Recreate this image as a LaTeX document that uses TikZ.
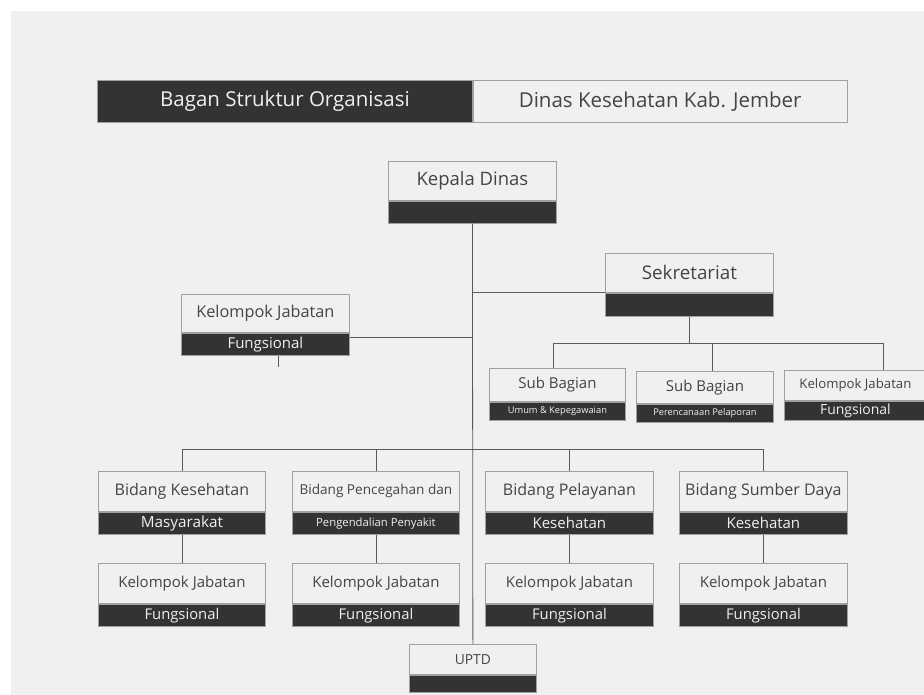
\documentclass[tikz,border=0pt]{standalone}
\usepackage{fontspec}
\setmainfont{Open Sans}
\usetikzlibrary{positioning}

\definecolor{paper}{HTML}{F0F0F0}
\definecolor{darkbar}{HTML}{333333}
\definecolor{frame}{HTML}{A0A0A0}
\definecolor{ink}{HTML}{444444}
\definecolor{wire}{HTML}{5A5A5A}

\newcommand{\fs}[1]{\fontsize{#1}{#1}\selectfont}

\tikzset{
  unittop/.style={draw=frame, line width=0.8pt, fill=paper, text=ink, inner sep=0pt, anchor=north west},
  unitbot/.style={draw=frame, line width=0.8pt, fill=darkbar, text=paper, inner sep=0pt, anchor=north},
  link/.style={draw=wire, line width=0.8pt}
}

% name, north west corner, width, top height, bottom height, top text, bottom text
\newcommand{\orgunit}[7]{%
  \node[unittop, minimum width=#3, minimum height=#4] (#1) at #2 {#6};
  \node[unitbot, minimum width=#3, minimum height=#5] (#1-b) at (#1.south) {#7};
}

\begin{document}
\begin{tikzpicture}[x=1pt, y=-1pt]
  \fill[white] (0,0) rectangle (924,695);
  \fill[paper] (11,11) rectangle (924,695);
  \useasboundingbox (0,0) rectangle (924,695);

  \node[unitbot, anchor=north west, minimum width=375, minimum height=42] (title) at (97,80) {\fs{20.5}Bagan Struktur Organisasi};
  \node[unittop, minimum width=374, minimum height=42] (dinas) at (title.north east) {\fs{20.5}Dinas Kesehatan Kab. Jember};

  \orgunit{kepala}{(388,161)}{168}{39}{22}{\fs{18.5}Kepala Dinas}{}
  \orgunit{sek}{(605,253)}{168}{39}{23}{\fs{18.8}Sekretariat}{}
  \orgunit{kjl}{(181,294)}{168}{38}{22}{\fs{16.3}Kelompok Jabatan}{\fs{15}Fungsional}

  \orgunit{sub1}{(489,368)}{136}{33}{18}{\fs{15}Sub Bagian}{\fs{9.3}Umum \& Kepegawaian}
  \orgunit{sub2}{(636,371)}{137}{32}{18}{\fs{15}Sub Bagian}{\fs{9.3}Perencanaan Pelaporan}
  \orgunit{kjr}{(784,370)}{142}{30}{19}{\fs{13.2}Kelompok Jabatan}{\fs{14}Fungsional}

  \orgunit{bid1}{(98,471)}{167}{40}{22}{\fs{16}Bidang Kesehatan}{\fs{15.3}Masyarakat}
  \orgunit{bid2}{(292,471)}{167}{40}{22}{\fs{13.6}Bidang Pencegahan dan}{\fs{11.3}Pengendalian Penyakit}
  \orgunit{bid3}{(485,471)}{168}{40}{22}{\fs{16}Bidang Pelayanan}{\fs{15}Kesehatan}
  \orgunit{bid4}{(679,471)}{168}{40}{22}{\fs{16}Bidang Sumber Daya}{\fs{15}Kesehatan}

  \orgunit{kj1}{(98,563)}{167}{40}{22}{\fs{15}Kelompok Jabatan}{\fs{14.8}Fungsional}
  \orgunit{kj2}{(292,563)}{167}{40}{22}{\fs{15}Kelompok Jabatan}{\fs{14.8}Fungsional}
  \orgunit{kj3}{(485,563)}{168}{40}{22}{\fs{15}Kelompok Jabatan}{\fs{14.8}Fungsional}
  \orgunit{kj4}{(679,563)}{168}{40}{22}{\fs{15}Kelompok Jabatan}{\fs{14.8}Fungsional}

  \orgunit{uptd}{(409,644)}{127}{30}{17}{\fs{13.8}UPTD}{}

  \draw[link] (kepala-b.south) -- (uptd.north);
  \draw[link] (kepala-b.south |- sek.south west) -- (sek.south west);
  \coordinate (kjlend) at ([yshift=-5pt]kjl-b.north east);
  \draw[link] (kjlend) -- (kjlend -| kepala-b.south);
  \draw[link] ([xshift=13pt]kjl-b.south) -- ++(0,11);

  \draw[link] (sek-b.south) -- ++(0,27) coordinate (sekbus);
  \draw[link] ([xshift=-4pt]sub1.north) |- (sekbus) -| ([xshift=28pt]kjr.north);
  \draw[link] ([xshift=7pt]sub2.north) -- ([xshift=7pt]sub2.north |- sekbus);

  \draw[link] (bid1.north) -- ++(0,-22) coordinate (bidbus) -| (bid4.north);
  \draw[link] (bid2.north) -- (bid2.north |- bidbus);
  \draw[link] (bid3.north) -- (bid3.north |- bidbus);
  \foreach \i in {1,...,4}
    \draw[link] (bid\i-b.south) -- (kj\i.north);
\end{tikzpicture}
\end{document}
